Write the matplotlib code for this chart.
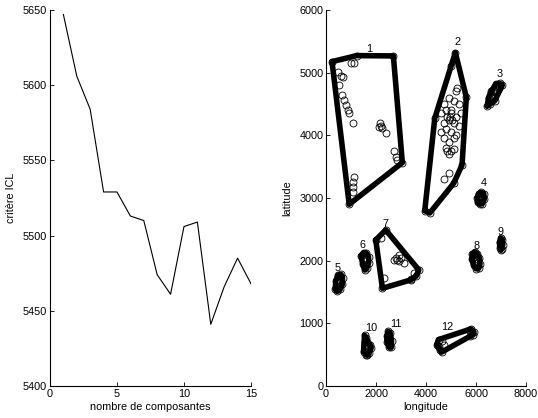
import matplotlib
matplotlib.use('Agg')
import matplotlib.pyplot as plt

# ======================
# DATA
# ======================

# left panel: ICL criterion vs number of components
n_comp = list(range(1, 16))
icl = [5647, 5606, 5584, 5529, 5529, 5513, 5510, 5474, 5461, 5506,
       5509, 5441, 5466, 5485, 5468]

# right panel: observed points per cluster (longitude, latitude)
c1_lon = [239, 1222, 2694, 3053, 927, 466, 597, 665, 529, 637, 728, 796, 864, 927,
          1063, 2121, 2257, 2388, 2161, 2189, 1126, 1063, 1063, 1063, 2718, 2786,
          2826, 995, 1126]
c1_lat = [5176, 5272, 5267, 3564, 2900, 5016, 4948, 4936, 4804, 4644, 4565, 4485,
          4405, 4352, 4193, 4129, 4113, 4043, 4202, 4150, 3340, 3261, 3181, 3101,
          3755, 3660, 3607, 5160, 5160]

c2_lon = [5174, 5612, 5441, 5107, 3950, 4150, 4350, 4700, 4900, 5100, 5300, 4600,
          4800, 5000, 5200, 5400, 4700, 4900, 5100, 5300, 4600, 4800, 5000, 5200,
          4700, 4900, 5100, 4800, 5000, 4900, 5100, 4850, 5250, 5000, 5100, 4700,
          4900, 5200, 4950, 5050, 5000, 4850]
c2_lat = [5320, 4608, 3527, 3235, 2800, 2760, 4272, 4500, 4600, 4550, 4500, 4350,
          4400, 4350, 4300, 4350, 4200, 4250, 4200, 4150, 4050, 4100, 4050, 4000,
          3950, 3900, 3950, 3800, 3750, 3700, 3780, 3750, 4750, 5100, 5200, 3300,
          3400, 4700, 4300, 4250, 4400, 4300]

c3_lon = [6450, 6550, 6700, 6850, 7050, 6950, 6800, 6600, 6500, 6700, 6900, 6750,
          6600, 6650, 6800]
c3_lat = [4470, 4500, 4600, 4700, 4800, 4830, 4820, 4700, 4600, 4700, 4750, 4550,
          4550, 4620, 4680]

c4_lon = [6060, 6150, 6250, 6330, 6310, 6200, 6100, 6050, 6200, 6150, 6250]
c4_lat = [2930, 2900, 2910, 2980, 3070, 3090, 3070, 3000, 3000, 2980, 3030]

c5_lon = [370, 450, 560, 650, 660, 600, 480, 390, 500, 560, 430]
c5_lat = [1550, 1510, 1540, 1620, 1730, 1780, 1770, 1680, 1640, 1660, 1600]

c6_lon = [1400, 1500, 1610, 1700, 1710, 1630, 1550, 1470, 1550, 1600]
c6_lat = [2080, 2130, 2120, 2060, 1970, 1880, 1850, 1940, 2000, 2030]

c7_lon = [2388, 1990, 2256, 3383, 3713, 2852, 3118, 2919, 2718, 2189, 2321, 3500,
          3600, 3400, 2800, 2900, 3000]
c7_lat = [2490, 2330, 1559, 1692, 1851, 2011, 1958, 2091, 2011, 2357, 1719, 1800,
          1750, 1700, 2050, 2000, 2050]

c8_lon = [5850, 5950, 6050, 6130, 6160, 6110, 6000, 5900, 5840, 6000, 6050]
c8_lat = [2110, 2140, 2110, 2050, 1950, 1880, 1870, 1930, 2020, 2000, 1960]

c9_lon = [6950, 7020, 7060, 7050, 6990, 6940, 7000, 7000]
c9_lat = [2200, 2190, 2250, 2330, 2360, 2290, 2170, 2260]

c10_lon = [1540, 1610, 1560, 1620, 1550, 1600, 1650, 1720, 1800, 1760, 1660, 1500,
           1600]
c10_lat = [810, 760, 700, 650, 600, 550, 490, 520, 600, 660, 600, 550, 500]

c11_lon = [2440, 2520, 2610, 2620, 2570, 2480, 2430, 2530, 2500]
c11_lat = [700, 620, 620, 720, 840, 870, 790, 750, 680]

c12_lon = [4430, 4500, 4550, 4620, 4720, 5700, 5800, 5880, 5750, 5920, 4650, 4500]
c12_lat = [660, 740, 580, 540, 650, 890, 910, 820, 790, 860, 720, 620]

cluster_lon = [c1_lon, c2_lon, c3_lon, c4_lon, c5_lon, c6_lon, c7_lon, c8_lon,
               c9_lon, c10_lon, c11_lon, c12_lon]
cluster_lat = [c1_lat, c2_lat, c3_lat, c4_lat, c5_lat, c6_lat, c7_lat, c8_lat,
               c9_lat, c10_lat, c11_lat, c12_lat]

# cluster number labels
label_lon = [1725, 5266, 6965, 6302, 464, 1459, 2388, 6010, 6992, 1791, 2786, 4842]
label_lat = [5374, 5485, 4980, 3245, 1878, 2250, 2585, 2234, 2453, 921, 984, 937]

# ======================
# FUNCTIONS
# ======================

def convex_hull(xs, ys):
    pts = sorted(set(zip(xs, ys)))
    if len(pts) < 3:
        return pts

    def cross(o, a, b):
        return (a[0] - o[0]) * (b[1] - o[1]) - (a[1] - o[1]) * (b[0] - o[0])

    lower = []
    for p in pts:
        while len(lower) >= 2 and cross(lower[-2], lower[-1], p) <= 0:
            lower.pop()
        lower.append(p)
    upper = []
    for p in reversed(pts):
        while len(upper) >= 2 and cross(upper[-2], upper[-1], p) <= 0:
            upper.pop()
        upper.append(p)
    hull = lower[:-1] + upper[:-1]
    return hull + [hull[0]]


def style_axes(ax):
    for side in ['top', 'right']:
        ax.spines[side].set_visible(False)
    ax.tick_params(direction='in', length=3, width=0.6, labelsize=7.8, pad=2)
    for side in ['left', 'bottom']:
        ax.spines[side].set_linewidth(0.8)


def generate_graph():
    plt.rcParams['font.family'] = ['Liberation Sans', 'DejaVu Sans']
    fig = plt.figure(figsize=(5.38, 4.18), dpi=100)

    # left panel
    ax1 = fig.add_axes([0.0929, 0.0766, 0.3736, 0.8995])
    ax1.plot(n_comp, icl, color='k', linewidth=0.8)
    ax1.set_xlim(0, 15)
    ax1.set_ylim(5400, 5650)
    ax1.set_xticks([0, 5, 10, 15])
    ax1.set_yticks([5400, 5450, 5500, 5550, 5600, 5650])
    ax1.set_xlabel('nombre de composantes', fontsize=7.8, labelpad=2)
    ax1.set_ylabel('critère ICL', fontsize=7.8, labelpad=5)
    style_axes(ax1)

    # right panel
    ax2 = fig.add_axes([0.606, 0.0766, 0.3717, 0.8995])
    for lon, lat in zip(cluster_lon, cluster_lat):
        hull = convex_hull(lon, lat)
        hx = [p[0] for p in hull]
        hy = [p[1] for p in hull]
        ax2.plot(hx, hy, color='k', linewidth=4.0, solid_joinstyle='round',
                 solid_capstyle='round')
        ax2.plot(lon, lat, linestyle='none', marker='o', markersize=5,
                 markerfacecolor='none', markeredgecolor='k', markeredgewidth=0.6)
    for i, (x, y) in enumerate(zip(label_lon, label_lat)):
        ax2.text(x, y, str(i + 1), ha='center', va='center', fontsize=7.8)
    ax2.set_xlim(0, 8000)
    ax2.set_ylim(0, 6000)
    ax2.set_xticks([0, 2000, 4000, 6000, 8000])
    ax2.set_yticks([0, 1000, 2000, 3000, 4000, 5000, 6000])
    ax2.set_xlabel('longitude', fontsize=7.8, labelpad=2)
    ax2.set_ylabel('latitude', fontsize=7.8, labelpad=5)
    style_axes(ax2)

    fig.savefig('out.png', dpi=100)

# ======================
# MAIN
# ======================

if __name__ == '__main__':
    generate_graph()
